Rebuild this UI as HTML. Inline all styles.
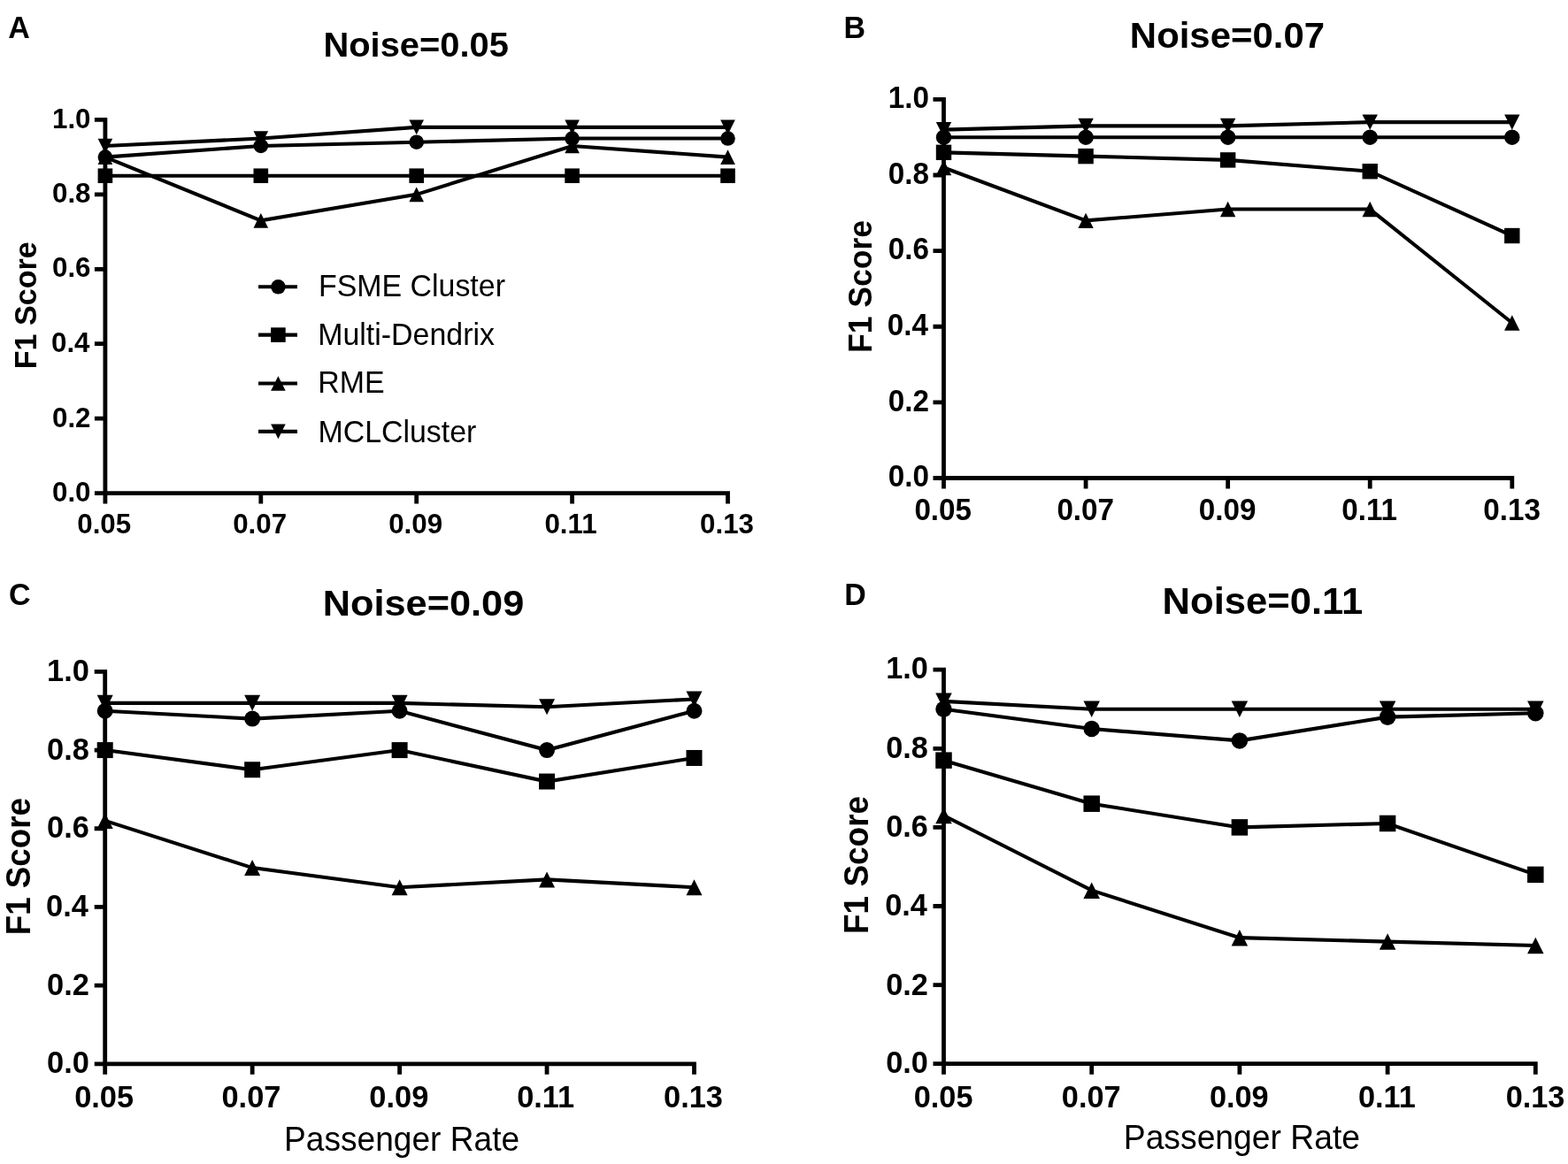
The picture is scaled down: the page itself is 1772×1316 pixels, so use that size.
<!DOCTYPE html><html><head><meta charset="utf-8"><title>F1 Score vs Passenger Rate</title>
<style>html,body{margin:0;padding:0;background:#fff;}svg{display:block;}text{font-family:"Liberation Sans",Arial,sans-serif;fill:#000;}.b{font-weight:bold;}</style></head><body>
<svg width="1772" height="1316" viewBox="0 0 1772 1316">
<rect width="1772" height="1316" fill="#fff"/>
<g fill="#000"><path d="M106.9 135.4H118.9M118.9 133V569.6M106.9 557.6H118.9M106.9 473.16H118.9M106.9 388.72H118.9M106.9 304.28H118.9M106.9 219.84H118.9M106.9 557.6H824.9M294.8 557.6V569.6M470.7 557.6V569.6M646.6 557.6V569.6M822.5 557.6V569.6" fill="none" stroke="#000" stroke-width="4.8"/><polyline points="118.9,177.62 294.8,164.95 470.7,160.73 646.6,156.51 822.5,156.51" fill="none" stroke="#000" stroke-width="4.1"/><polyline points="118.9,198.73 294.8,198.73 470.7,198.73 646.6,198.73 822.5,198.73" fill="none" stroke="#000" stroke-width="4.1"/><polyline points="118.9,177.62 294.8,249.39 470.7,219.84 646.6,164.95 822.5,177.62" fill="none" stroke="#000" stroke-width="4.1"/><polyline points="118.9,164.95 294.8,156.51 470.7,143.84 646.6,143.84 822.5,143.84" fill="none" stroke="#000" stroke-width="4.1"/><circle cx="118.9" cy="177.62" r="8.3"/><circle cx="294.8" cy="164.95" r="8.3"/><circle cx="470.7" cy="160.73" r="8.3"/><circle cx="646.6" cy="156.51" r="8.3"/><circle cx="822.5" cy="156.51" r="8.3"/><rect x="110.6" y="190.43" width="16.6" height="16.6"/><rect x="286.5" y="190.43" width="16.6" height="16.6"/><rect x="462.4" y="190.43" width="16.6" height="16.6"/><rect x="638.3" y="190.43" width="16.6" height="16.6"/><rect x="814.2" y="190.43" width="16.6" height="16.6"/><path d="M118.9 169.32L127.2 185.92L110.6 185.92Z"/><path d="M294.8 241.09L303.1 257.69L286.5 257.69Z"/><path d="M470.7 211.54L479 228.14L462.4 228.14Z"/><path d="M646.6 156.65L654.9 173.25L638.3 173.25Z"/><path d="M822.5 169.32L830.8 185.92L814.2 185.92Z"/><path d="M110.6 156.65L127.2 156.65L118.9 173.25Z"/><path d="M286.5 148.21L303.1 148.21L294.8 164.81Z"/><path d="M462.4 135.54L479 135.54L470.7 152.14Z"/><path d="M638.3 135.54L654.9 135.54L646.6 152.14Z"/><path d="M814.2 135.54L830.8 135.54L822.5 152.14Z"/></g>
<g fill="#000"><path d="M1054.5 112.4H1066.5M1066.5 110V552.5M1054.5 540.5H1066.5M1054.5 454.88H1066.5M1054.5 369.26H1066.5M1054.5 283.64H1066.5M1054.5 198.02H1066.5M1054.5 540.5H1711.2M1227.08 540.5V552.5M1387.65 540.5V552.5M1548.22 540.5V552.5M1708.8 540.5V552.5" fill="none" stroke="#000" stroke-width="4.8"/><polyline points="1066.5,155.21 1227.08,155.21 1387.65,155.21 1548.22,155.21 1708.8,155.21" fill="none" stroke="#000" stroke-width="4.1"/><polyline points="1066.5,172.33 1227.08,176.62 1387.65,180.9 1548.22,193.74 1708.8,266.52" fill="none" stroke="#000" stroke-width="4.1"/><polyline points="1066.5,189.46 1227.08,249.39 1387.65,236.55 1548.22,236.55 1708.8,364.98" fill="none" stroke="#000" stroke-width="4.1"/><polyline points="1066.5,146.65 1227.08,142.37 1387.65,142.37 1548.22,138.09 1708.8,138.09" fill="none" stroke="#000" stroke-width="4.1"/><circle cx="1066.5" cy="155.21" r="8.7"/><circle cx="1227.08" cy="155.21" r="8.7"/><circle cx="1387.65" cy="155.21" r="8.7"/><circle cx="1548.22" cy="155.21" r="8.7"/><circle cx="1708.8" cy="155.21" r="8.7"/><rect x="1057.8" y="163.63" width="17.4" height="17.4"/><rect x="1218.38" y="167.92" width="17.4" height="17.4"/><rect x="1378.95" y="172.2" width="17.4" height="17.4"/><rect x="1539.52" y="185.04" width="17.4" height="17.4"/><rect x="1700.1" y="257.82" width="17.4" height="17.4"/><path d="M1066.5 180.76L1075.2 198.16L1057.8 198.16Z"/><path d="M1227.08 240.69L1235.78 258.09L1218.38 258.09Z"/><path d="M1387.65 227.85L1396.35 245.25L1378.95 245.25Z"/><path d="M1548.22 227.85L1556.92 245.25L1539.52 245.25Z"/><path d="M1708.8 356.28L1717.5 373.68L1700.1 373.68Z"/><path d="M1057.8 137.95L1075.2 137.95L1066.5 155.35Z"/><path d="M1218.38 133.67L1235.78 133.67L1227.08 151.07Z"/><path d="M1378.95 133.67L1396.35 133.67L1387.65 151.07Z"/><path d="M1539.52 129.39L1556.92 129.39L1548.22 146.79Z"/><path d="M1700.1 129.39L1717.5 129.39L1708.8 146.79Z"/></g>
<g fill="#000"><path d="M106.7 759.4H118.7M118.7 757V1214.8M106.7 1202.8H118.7M106.7 1114.12H118.7M106.7 1025.44H118.7M106.7 936.76H118.7M106.7 848.08H118.7M106.7 1202.8H786.9M285.15 1202.8V1214.8M451.6 1202.8V1214.8M618.05 1202.8V1214.8M784.5 1202.8V1214.8" fill="none" stroke="#000" stroke-width="4.8"/><polyline points="118.7,803.74 285.15,812.61 451.6,803.74 618.05,848.08 784.5,803.74" fill="none" stroke="#000" stroke-width="4.1"/><polyline points="118.7,848.08 285.15,870.25 451.6,848.08 618.05,883.55 784.5,856.95" fill="none" stroke="#000" stroke-width="4.1"/><polyline points="118.7,927.89 285.15,981.1 451.6,1003.27 618.05,994.4 784.5,1003.27" fill="none" stroke="#000" stroke-width="4.1"/><polyline points="118.7,794.87 285.15,794.87 451.6,794.87 618.05,799.31 784.5,790.44" fill="none" stroke="#000" stroke-width="4.1"/><circle cx="118.7" cy="803.74" r="9"/><circle cx="285.15" cy="812.61" r="9"/><circle cx="451.6" cy="803.74" r="9"/><circle cx="618.05" cy="848.08" r="9"/><circle cx="784.5" cy="803.74" r="9"/><rect x="109.7" y="839.08" width="18" height="18"/><rect x="276.15" y="861.25" width="18" height="18"/><rect x="442.6" y="839.08" width="18" height="18"/><rect x="609.05" y="874.55" width="18" height="18"/><rect x="775.5" y="847.95" width="18" height="18"/><path d="M118.7 918.89L127.7 936.89L109.7 936.89Z"/><path d="M285.15 972.1L294.15 990.1L276.15 990.1Z"/><path d="M451.6 994.27L460.6 1012.27L442.6 1012.27Z"/><path d="M618.05 985.4L627.05 1003.4L609.05 1003.4Z"/><path d="M784.5 994.27L793.5 1012.27L775.5 1012.27Z"/><path d="M109.7 785.87L127.7 785.87L118.7 803.87Z"/><path d="M276.15 785.87L294.15 785.87L285.15 803.87Z"/><path d="M442.6 785.87L460.6 785.87L451.6 803.87Z"/><path d="M609.05 790.31L627.05 790.31L618.05 808.31Z"/><path d="M775.5 781.44L793.5 781.44L784.5 799.44Z"/></g>
<g fill="#000"><path d="M1054.5 757.2H1066.5M1066.5 754.8V1214.7M1054.5 1202.7H1066.5M1054.5 1113.6H1066.5M1054.5 1024.5H1066.5M1054.5 935.4H1066.5M1054.5 846.3H1066.5M1054.5 1202.7H1737.7M1233.7 1202.7V1214.7M1400.9 1202.7V1214.7M1568.1 1202.7V1214.7M1735.3 1202.7V1214.7" fill="none" stroke="#000" stroke-width="4.8"/><polyline points="1066.5,801.75 1233.7,824.03 1400.9,837.39 1568.1,810.66 1735.3,806.21" fill="none" stroke="#000" stroke-width="4.1"/><polyline points="1066.5,859.66 1233.7,908.67 1400.9,935.4 1568.1,930.95 1735.3,988.86" fill="none" stroke="#000" stroke-width="4.1"/><polyline points="1066.5,922.04 1233.7,1006.68 1400.9,1060.14 1568.1,1064.6 1735.3,1069.05" fill="none" stroke="#000" stroke-width="4.1"/><polyline points="1066.5,792.84 1233.7,801.75 1400.9,801.75 1568.1,801.75 1735.3,801.75" fill="none" stroke="#000" stroke-width="4.1"/><circle cx="1066.5" cy="801.75" r="9.25"/><circle cx="1233.7" cy="824.03" r="9.25"/><circle cx="1400.9" cy="837.39" r="9.25"/><circle cx="1568.1" cy="810.66" r="9.25"/><circle cx="1735.3" cy="806.21" r="9.25"/><rect x="1057.25" y="850.41" width="18.5" height="18.5"/><rect x="1224.45" y="899.42" width="18.5" height="18.5"/><rect x="1391.65" y="926.15" width="18.5" height="18.5"/><rect x="1558.85" y="921.7" width="18.5" height="18.5"/><rect x="1726.05" y="979.61" width="18.5" height="18.5"/><path d="M1066.5 912.79L1075.75 931.29L1057.25 931.29Z"/><path d="M1233.7 997.43L1242.95 1015.93L1224.45 1015.93Z"/><path d="M1400.9 1050.89L1410.15 1069.39L1391.65 1069.39Z"/><path d="M1568.1 1055.35L1577.35 1073.85L1558.85 1073.85Z"/><path d="M1735.3 1059.8L1744.55 1078.3L1726.05 1078.3Z"/><path d="M1057.25 783.59L1075.75 783.59L1066.5 802.09Z"/><path d="M1224.45 792.5L1242.95 792.5L1233.7 811Z"/><path d="M1391.65 792.5L1410.15 792.5L1400.9 811Z"/><path d="M1558.85 792.5L1577.35 792.5L1568.1 811Z"/><path d="M1726.05 792.5L1744.55 792.5L1735.3 811Z"/></g>
<g fill="#000"><path d="M292 324.3H336" stroke="#000" stroke-width="4.1" fill="none"/><circle cx="314.4" cy="324.3" r="8.3"/><path d="M292 378.6H336" stroke="#000" stroke-width="4.1" fill="none"/><rect x="306.1" y="370.3" width="16.6" height="16.6"/><path d="M292 433.5H336" stroke="#000" stroke-width="4.1" fill="none"/><path d="M314.4 425.2L322.7 441.8L306.1 441.8Z"/><path d="M292 487.9H336" stroke="#000" stroke-width="4.1" fill="none"/><path d="M306.1 479.6L322.7 479.6L314.4 496.2Z"/></g>
<g><text class="b" text-anchor="end" font-size="31.3" transform="translate(102.5 567.31) scale(1 1.03)">0.0</text><text class="b" text-anchor="end" font-size="31.3" transform="translate(102.5 482.59) scale(1 1.03)">0.2</text><text class="b" text-anchor="end" font-size="31.3" transform="translate(101.5 397.87) scale(1 1.03)">0.4</text><text class="b" text-anchor="end" font-size="31.3" transform="translate(102.5 313.14) scale(1 1.03)">0.6</text><text class="b" text-anchor="end" font-size="31.3" transform="translate(102.5 229.42) scale(1 1.03)">0.8</text><text class="b" text-anchor="end" font-size="31.3" transform="translate(102.5 144.7) scale(1 1.03)">1.0</text><text class="b" text-anchor="middle" font-size="31.3" transform="translate(117.7 602.71) scale(1 1.03)">0.05</text><text class="b" text-anchor="middle" font-size="31.3" transform="translate(293.65 602.71) scale(1 1.03)">0.07</text><text class="b" text-anchor="middle" font-size="31.3" transform="translate(469.6 602.71) scale(1 1.03)">0.09</text><text class="b" text-anchor="middle" font-size="31.3" transform="translate(645.05 602.71) scale(1 1.03)">0.11</text><text class="b" text-anchor="middle" font-size="31.3" transform="translate(821.5 602.71) scale(1 1.03)">0.13</text><text class="b" text-anchor="middle" font-size="39.87" transform="translate(470.15 63.8) scale(1 0.9503)">Noise=0.05</text><text class="b" font-size="34" transform="translate(9.2 43.4) scale(1 1.01)">A</text><text class="b" text-anchor="middle" font-size="34.11" transform="translate(41.2 345.25) rotate(-90) scale(1 1.0353)">F1 Score</text><text class="b" text-anchor="end" font-size="33.2" transform="translate(1049.9 550.42) scale(1 1.03)">0.0</text><text class="b" text-anchor="end" font-size="33.2" transform="translate(1049.9 465.36) scale(1 1.03)">0.2</text><text class="b" text-anchor="end" font-size="33.2" transform="translate(1048.9 379.3) scale(1 1.03)">0.4</text><text class="b" text-anchor="end" font-size="33.2" transform="translate(1049.9 293.24) scale(1 1.03)">0.6</text><text class="b" text-anchor="end" font-size="33.2" transform="translate(1049.9 208.18) scale(1 1.03)">0.8</text><text class="b" text-anchor="end" font-size="33.2" transform="translate(1049.9 122.12) scale(1 1.03)">1.0</text><text class="b" text-anchor="middle" font-size="33.2" transform="translate(1065.7 587.64) scale(1 1.03)">0.05</text><text class="b" text-anchor="middle" font-size="33.2" transform="translate(1226.68 587.64) scale(1 1.03)">0.07</text><text class="b" text-anchor="middle" font-size="33.2" transform="translate(1387.15 587.64) scale(1 1.03)">0.09</text><text class="b" text-anchor="middle" font-size="33.2" transform="translate(1547.62 587.64) scale(1 1.03)">0.11</text><text class="b" text-anchor="middle" font-size="33.2" transform="translate(1708.6 587.64) scale(1 1.03)">0.13</text><text class="b" text-anchor="middle" font-size="41.92" transform="translate(1386.95 53.7) scale(1 0.9652)">Noise=0.07</text><text class="b" font-size="34" transform="translate(953.5 43.1) scale(1 1.01)">B</text><text class="b" text-anchor="middle" font-size="35.54" transform="translate(985.4 324) rotate(-90) scale(1 1.0174)">F1 Score</text><text class="b" text-anchor="end" font-size="34.4" transform="translate(100.9 1212.94) scale(1 1.03)">0.0</text><text class="b" text-anchor="end" font-size="34.4" transform="translate(100.9 1125.1) scale(1 1.03)">0.2</text><text class="b" text-anchor="end" font-size="34.4" transform="translate(99.9 1036.26) scale(1 1.03)">0.4</text><text class="b" text-anchor="end" font-size="34.4" transform="translate(100.9 947.42) scale(1 1.03)">0.6</text><text class="b" text-anchor="end" font-size="34.4" transform="translate(100.9 858.58) scale(1 1.03)">0.8</text><text class="b" text-anchor="end" font-size="34.4" transform="translate(100.9 769.74) scale(1 1.03)">1.0</text><text class="b" text-anchor="middle" font-size="34.4" transform="translate(117.6 1252.18) scale(1 1.03)">0.05</text><text class="b" text-anchor="middle" font-size="34.4" transform="translate(283.95 1252.18) scale(1 1.03)">0.07</text><text class="b" text-anchor="middle" font-size="34.4" transform="translate(450.8 1252.18) scale(1 1.03)">0.09</text><text class="b" text-anchor="middle" font-size="34.4" transform="translate(616.65 1252.18) scale(1 1.03)">0.11</text><text class="b" text-anchor="middle" font-size="34.4" transform="translate(783.5 1252.18) scale(1 1.03)">0.13</text><text class="b" text-anchor="middle" font-size="43.32" transform="translate(478.5 695.5) scale(1 0.9573)">Noise=0.09</text><text class="b" font-size="34" transform="translate(10 684) scale(1 1.01)">C</text><text class="b" text-anchor="middle" font-size="36.78" transform="translate(33.6 979.65) rotate(-90) scale(1 1.0549)">F1 Score</text><text text-anchor="middle" font-size="37.11" transform="translate(454.1 1300.6) scale(1 1.0213)">Passenger Rate</text><text class="b" text-anchor="end" font-size="34.3" transform="translate(1048.9 1212.9) scale(1 1.03)">0.0</text><text class="b" text-anchor="end" font-size="34.3" transform="translate(1048.9 1124.61) scale(1 1.03)">0.2</text><text class="b" text-anchor="end" font-size="34.3" transform="translate(1047.9 1035.3) scale(1 1.03)">0.4</text><text class="b" text-anchor="end" font-size="34.3" transform="translate(1048.9 946.01) scale(1 1.03)">0.6</text><text class="b" text-anchor="end" font-size="34.3" transform="translate(1048.9 856.7) scale(1 1.03)">0.8</text><text class="b" text-anchor="end" font-size="34.3" transform="translate(1048.9 767.41) scale(1 1.03)">1.0</text><text class="b" text-anchor="middle" font-size="34.3" transform="translate(1066.1 1251.81) scale(1 1.03)">0.05</text><text class="b" text-anchor="middle" font-size="34.3" transform="translate(1233.2 1251.81) scale(1 1.03)">0.07</text><text class="b" text-anchor="middle" font-size="34.3" transform="translate(1400.3 1251.81) scale(1 1.03)">0.09</text><text class="b" text-anchor="middle" font-size="34.3" transform="translate(1567.4 1251.81) scale(1 1.03)">0.11</text><text class="b" text-anchor="middle" font-size="34.3" transform="translate(1735 1251.81) scale(1 1.03)">0.13</text><text class="b" font-size="43.59" transform="translate(1313.6 693.5) scale(1 0.973)">Noise=0.11</text><text class="b" font-size="34" transform="translate(954.2 683.9) scale(1 1.01)">D</text><text class="b" text-anchor="middle" font-size="36.97" transform="translate(981.3 977.95) rotate(-90) scale(1 1.0536)">F1 Score</text><text text-anchor="middle" font-size="37.28" transform="translate(1403.4 1298.9) scale(1 1.0222)">Passenger Rate</text><text font-size="33.9" transform="translate(360 335.4) scale(1 1.02)">FSME Cluster</text><text font-size="33.9" transform="translate(359.25 389.8) scale(1 1.02)">Multi-Dendrix</text><text font-size="33.9" transform="translate(359.2 443.9) scale(1 1.02)">RME</text><text font-size="33.9" transform="translate(359.45 499.5) scale(1 1.02)">MCLCluster</text></g>
</svg></body></html>
